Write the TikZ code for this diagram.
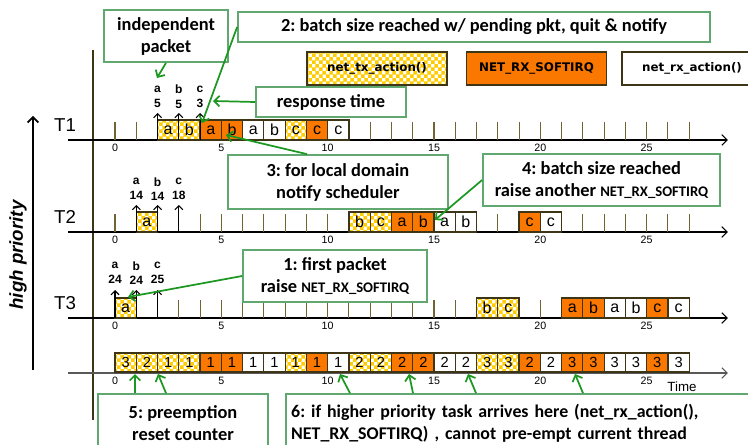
\documentclass[tikz,border=0pt]{standalone}
\usepackage{fontspec}
\setmainfont{Liberation Sans}
\newfontfamily\calibri{Carlito}
\newfontfamily\verdana{DejaVu Sans}
\usetikzlibrary{arrows.meta,calc,patterns}

\definecolor{chkyellow}{RGB}{255,204,0}
\definecolor{sirqorange}{RGB}{250,120,0}
\definecolor{tickbrown}{RGB}{115,98,50}
\definecolor{edgebrown}{RGB}{62,52,22}
\definecolor{calloutgreen}{RGB}{96,168,112}
\definecolor{arrowgreen}{RGB}{28,152,34}

% yellow/white checker for net_tx_action()
\pgfdeclarepatternformonly{chk}{\pgfpointorigin}{\pgfqpoint{5.2pt}{5.2pt}}{\pgfqpoint{5.2pt}{5.2pt}}{%
  \pgfpathrectangle{\pgfpointorigin}{\pgfqpoint{2.65pt}{2.65pt}}%
  \pgfpathrectangle{\pgfqpoint{2.6pt}{2.6pt}}{\pgfqpoint{2.65pt}{2.65pt}}%
  \pgfusepath{fill}}

\newcommand\irqname{{\fontsize{11}{16.5}\selectfont NET\_RX\_SOFTIRQ}}

\tikzset{
  txbox/.style={draw=edgebrown, line width=0.9pt, preaction={fill=white},
    pattern=chk, pattern color=chkyellow},
  sirqbox/.style={draw=edgebrown, line width=0.9pt, fill=sirqorange},
  rxbox/.style={draw=edgebrown, line width=0.9pt, fill=white},
  slot/.style={minimum width=15.95pt, minimum height=15pt, inner sep=0pt,
    outer sep=0pt, font=\fontsize{12}{12}\selectfont},
  cntslot/.style={slot, minimum height=14.25pt, font=\fontsize{11}{11}\selectfont},
  legendbox/.style={minimum width=105pt, minimum height=24.75pt, inner sep=0pt,
    font=\verdana\bfseries\fontsize{8.9}{10}\selectfont},
  axisline/.style={line width=0.8pt, -{Straight Barb[length=4pt,width=8pt]}},
  tickmark/.style={draw=tickbrown, line width=0.8pt},
  ticklabel/.style={inner sep=0pt, font=\fontsize{8}{8}\selectfont},
  arrival/.style={line width=0.8pt, -{Straight Barb[length=3pt,width=6pt]}},
  arrlabel/.style={align=center, inner sep=0pt, font=\bfseries\fontsize{9}{11}\selectfont},
  rowname/.style={font=\fontsize{14}{14}\selectfont},
  note/.style={draw=calloutgreen, line width=1.3pt, fill=white, inner sep=0pt,
    align=center, font=\calibri\bfseries\fontsize{13.8}{16.5}\selectfont},
  callarrow/.style={draw=arrowgreen, line width=1.3pt, -{Straight Barb[length=4pt,width=8pt]}},
}

\begin{document}
\frenchspacing
\begin{tikzpicture}[x=0.75pt, y=-0.75pt]
  \useasboundingbox (0,0) rectangle (748,445);

  % Priority arrow on the far left
  \coordinate (prlow) at (33,370);
  \coordinate (prhigh) at (33,116);
  \draw[line width=1.2pt, -{Straight Barb[length=4pt,width=8pt]}] (prlow) -- (prhigh);
  \node[rotate=90, font=\bfseries\itshape\fontsize{14}{14}\selectfont] (prio) at (18,255) {high priority};

  % Vertical line just before time 0
  \draw[draw=edgebrown, line width=0.9pt] (93,50) -- (93,420);

  % Thread names
  \node[rowname] (T1) at (65,125) {T1};
  \node[rowname] (T2) at (65,217) {T2};
  \node[rowname] (T3) at (65,303) {T3};

  % T1 timeline
  \begin{scope}[shift={(115,140)}, x=15.95pt]
    \draw[axisline] (-2.21,0) -- (28.82,0);
    \foreach \t in {0,...,27}
      \draw[tickmark] (\t,0) -- (\t,-18);
    \foreach \t in {0,5,...,25}
      \node[ticklabel] (one-l\t) at (\t,8) {\t};
    \foreach \t/\p/\s in {2/a/txbox, 3/b/txbox, 4/a/sirqbox, 5/b/sirqbox, 6/a/rxbox,
                          7/b/rxbox, 8/c/txbox, 9/c/sirqbox, 10/c/rxbox}
      \node[slot, \s] (one-\t) at (\t+0.5,-10) {\p};
    \foreach \t/\p/\d in {2/a/5, 3/b/5, 4/c/3} {
      \coordinate (one-in\t) at (\t,-27);
      \draw[arrival] (\t,0) -- (one-in\t);
      \node[arrlabel] (one-n\t) at (\t,-43) {\p\\\d};
    }
  \end{scope}

  % T2 timeline
  \begin{scope}[shift={(115,232)}, x=15.95pt]
    \draw[axisline] (-2.21,0) -- (28.82,0);
    \foreach \t in {0,...,27}
      \draw[tickmark] (\t,0) -- (\t,-18);
    \foreach \t in {0,5,...,25}
      \node[ticklabel] (two-l\t) at (\t,8) {\t};
    \foreach \t/\p/\s in {1/a/txbox, 11/b/txbox, 12/c/txbox, 13/a/sirqbox, 14/b/sirqbox,
                          15/a/rxbox, 16/b/rxbox, 19/c/sirqbox, 20/c/rxbox}
      \node[slot, \s] (two-\t) at (\t+0.5,-10) {\p};
    \foreach \t/\p/\d in {1/a/14, 2/b/14, 3/c/18} {
      \coordinate (two-in\t) at (\t,-27);
      \draw[arrival] (\t,0) -- (two-in\t);
      \node[arrlabel] (two-n\t) at (\t,-43) {\p\\\d};
    }
  \end{scope}

  % T3 timeline
  \begin{scope}[shift={(115,318)}, x=15.95pt]
    \draw[axisline] (-2.21,0) -- (28.82,0);
    \foreach \t in {0,...,27}
      \draw[tickmark] (\t,0) -- (\t,-18);
    \foreach \t in {0,5,...,25}
      \node[ticklabel] (three-l\t) at (\t,8) {\t};
    \foreach \t/\p/\s in {0/a/txbox, 17/b/txbox, 18/c/txbox, 21/a/sirqbox, 22/b/sirqbox,
                          23/a/rxbox, 24/b/rxbox, 25/c/sirqbox, 26/c/rxbox}
      \node[slot, \s] (three-\t) at (\t+0.5,-10) {\p};
    \foreach \t/\p/\d in {0/a/24, 1/b/24, 2/c/25} {
      \coordinate (three-in\t) at (\t,-28);
      \draw[arrival] (\t,0) -- (three-in\t);
      \node[arrlabel] (three-n\t) at (\t,-45) {\p\\\d};
    }
  \end{scope}

  % Batch counter of the running thread
  \begin{scope}[shift={(115,373)}, x=15.95pt]
    \draw[axisline, draw=black!65] (-2.21,0) -- (28.82,0);
    \foreach \t in {0,5,...,25}
      \node[ticklabel] (cnt-l\t) at (\t,8) {\t};
    \foreach \t/\n/\s in {0/3/txbox, 1/2/txbox, 2/1/txbox, 3/1/txbox, 4/1/sirqbox,
                          5/1/sirqbox, 6/1/rxbox, 7/1/rxbox, 8/1/txbox, 9/1/sirqbox,
                          10/1/rxbox, 11/2/txbox, 12/2/txbox, 13/2/sirqbox, 14/2/sirqbox,
                          15/2/rxbox, 16/2/rxbox, 17/3/txbox, 18/3/txbox, 19/2/sirqbox,
                          20/2/rxbox, 21/3/sirqbox, 22/3/sirqbox, 23/3/rxbox, 24/3/rxbox,
                          25/3/sirqbox, 26/3/rxbox}
      \node[cntslot, \s] (cnt-\t) at (\t+0.5,-10.5) {\n};
  \end{scope}
  \node[font=\fontsize{10}{10}\selectfont] (time) at (682,387) {Time};

  % Legend
  \node[legendbox, txbox] (lgtx) at (377,68.5) {net\_tx\_action()};
  \node[legendbox, sirqbox] (lgsirq) at (536.5,68.5) {NET\_RX\_SOFTIRQ};
  \node[legendbox, rxbox] (lgrx) at (692,68.5) {net\_rx\_action()};

  % Callouts
  \node[note, minimum width=93pt, minimum height=39pt] (indep) at (166,36) {independent\\packet};
  \node[note, minimum width=354pt, minimum height=22.5pt] (full) at (474,27)
    {2: batch size reached w/ pending pkt, quit \& notify};
  \node[note, minimum width=112.5pt, minimum height=22.5pt] (resp) at (331,102) {response time};
  \node[note, minimum width=165pt, minimum height=40.5pt] (local) at (338,182)
    {3: for local domain\\notify scheduler};
  \node[note, minimum width=177.75pt, minimum height=39pt] (again) at (601.5,180)
    {4: batch size reached\\raise another \irqname};
  \node[note, minimum width=138pt, minimum height=39pt] (first) at (335,276)
    {1: first packet\\raise \irqname};
  \node[note, minimum width=127.5pt, minimum height=43.5pt] (preempt) at (183,423)
    {5: preemption\\reset counter};
  \node[note, anchor=west, inner xsep=4pt, text width=360pt, align=left,
    minimum height=43.5pt, font=\calibri\bfseries\fontsize{13.4}{16.5}\selectfont]
    (nopre) at (285,423)
    {6: if higher priority task arrives here (net\_rx\_action(),\\
     NET\_RX\_SOFTIRQ) , cannot pre-empt current thread};

  % Callout arrows
  \coordinate (indeptip) at (157,78);
  \coordinate (fulltip) at (202,123);
  \coordinate (resptip) at (213,101);
  \coordinate (localtip) at (226,135);
  \coordinate (againtip) at (435,220);
  \coordinate (firsttip) at (128,297);
  \draw[callarrow] (indep.south) -- (indeptip);
  \draw[callarrow] (full.west) -- (fulltip);
  \draw[callarrow] (resp.west) -- (resptip);
  \draw[callarrow] ($(local.north)+(-31,0)$) -- (localtip);
  \draw[callarrow] (again.west) -- (againtip);
  \draw[callarrow] (first.west) -- (firsttip);

  \foreach \dx/\tx in {-48/135, -17/158} {
    \coordinate (pretip\tx) at (\tx,374);
    \draw[callarrow] ($(preempt.north)+(\dx,0)$) -- (pretip\tx);
  }
  \foreach \dx/\tx in {65/340, 128/409, 191/468, 298/575} {
    \coordinate (noptip\tx) at (\tx,374);
    \draw[callarrow] ($(nopre.north west)+(\dx,0)$) -- (noptip\tx);
  }
\end{tikzpicture}
\end{document}
